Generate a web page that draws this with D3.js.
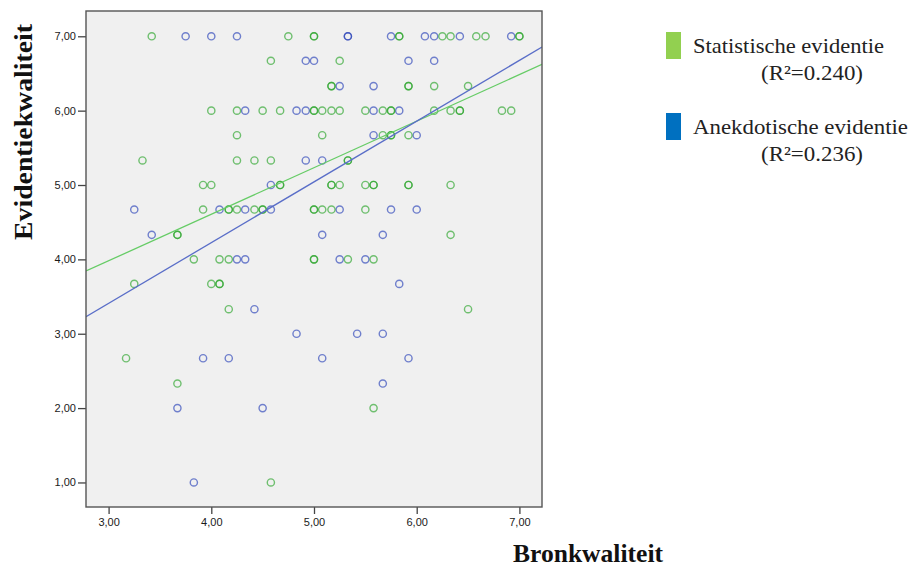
<!DOCTYPE html>
<html>
<head>
<meta charset="utf-8">
<script src="https://cdn.jsdelivr.net/npm/d3@7"></script>
<style>
  html, body { margin: 0; padding: 0; background: #fff; }
  svg { display: block; }
</style>
</head>
<body>
<div id="chart"></div>
<script>
// ----- data -----
const seriesNames = ["Statistische evidentie", "Anekdotische evidentie"];
const rSquaredLabels = ["(R\u00b2=0.240)", "(R\u00b2=0.236)"];
const legendColors = ["#92d050", "#0070c0"];
const pointColors = ["#2aa42a", "#2a42b8"];
const lineColors = ["#66cc66", "#5a6ec8"];

const xTicks = [3, 4, 5, 6, 7];
const yTicks = [1, 2, 3, 4, 5, 6, 7];

// fit lines: [intercept, slope]
const fitStatistisch = [2.103, 0.626];
const fitAnekdotisch = [0.957, 0.817];

// [bronkwaliteit, evidentiekwaliteit], repeated pairs = overlapping cases
const statistischePunten = [
  [3.42, 7], [4.75, 7], [5.00, 7], [5.00, 7], [5.83, 7], [5.83, 7], [6.25, 7], [6.33, 7],
  [6.58, 7], [6.67, 7], [7.00, 7], [7.00, 7],
  [4.58, 6.67], [5.25, 6.67],
  [5.17, 6.33], [5.17, 6.33], [5.92, 6.33], [5.92, 6.33], [6.17, 6.33], [6.50, 6.33],
  [4.00, 6], [4.25, 6], [4.50, 6], [4.67, 6], [5.00, 6], [5.00, 6], [5.08, 6], [5.17, 6],
  [5.25, 6], [5.50, 6], [5.67, 6], [5.75, 6], [5.75, 6], [6.17, 6], [6.33, 6], [6.42, 6],
  [6.42, 6], [6.83, 6], [6.92, 6],
  [4.25, 5.67], [5.08, 5.67], [5.67, 5.67], [5.75, 5.67], [5.75, 5.67], [5.92, 5.67],
  [3.33, 5.33], [4.25, 5.33], [4.42, 5.33], [4.58, 5.33], [5.33, 5.33], [5.33, 5.33],
  [3.92, 5], [4.00, 5], [4.67, 5], [4.67, 5], [5.17, 5], [5.17, 5], [5.25, 5], [5.50, 5],
  [5.58, 5], [5.58, 5], [5.92, 5], [5.92, 5], [6.33, 5],
  [3.92, 4.67], [4.17, 4.67], [4.17, 4.67], [4.25, 4.67], [4.42, 4.67], [4.50, 4.67],
  [4.50, 4.67], [5.00, 4.67], [5.00, 4.67], [5.08, 4.67], [5.17, 4.67], [5.50, 4.67],
  [3.67, 4.33], [3.67, 4.33], [6.33, 4.33],
  [3.83, 4], [4.08, 4], [4.17, 4], [5.00, 4], [5.00, 4], [5.33, 4], [5.58, 4],
  [3.25, 3.67], [4.00, 3.67], [4.08, 3.67], [4.08, 3.67],
  [4.17, 3.33], [6.50, 3.33],
  [3.17, 2.67],
  [3.67, 2.33],
  [5.58, 2],
  [4.58, 1]
];

const anekdotischePunten = [
  [3.75, 7], [4.00, 7], [4.25, 7], [5.33, 7], [5.33, 7], [5.75, 7], [6.08, 7], [6.17, 7],
  [6.42, 7], [6.92, 7],
  [4.92, 6.67], [5.00, 6.67], [5.92, 6.67], [6.17, 6.67],
  [5.25, 6.33], [5.58, 6.33],
  [4.33, 6], [4.83, 6], [4.92, 6], [5.58, 6], [5.83, 6],
  [5.58, 5.67], [6.00, 5.67],
  [4.92, 5.33], [5.08, 5.33],
  [4.58, 5],
  [3.25, 4.67], [4.08, 4.67], [4.33, 4.67], [4.58, 4.67], [5.25, 4.67], [5.75, 4.67],
  [6.00, 4.67],
  [3.42, 4.33], [5.08, 4.33], [5.67, 4.33],
  [4.25, 4], [4.33, 4], [5.25, 4], [5.50, 4],
  [5.83, 3.67],
  [4.42, 3.33],
  [4.83, 3], [5.42, 3], [5.67, 3],
  [3.92, 2.67], [4.17, 2.67], [5.08, 2.67], [5.92, 2.67],
  [5.67, 2.33],
  [3.67, 2], [4.50, 2],
  [3.83, 1]
];

// ----- layout -----
const width = 912;
const height = 568;
const plot = { left: 86, right: 542, top: 11, bottom: 507 };

const svg = d3.select("#chart").append("svg")
  .attr("width", width)
  .attr("height", height);

const x = d3.scaleLinear()
  .domain([2.78, 7.22])
  .range([plot.left, plot.right]);

const y = d3.scaleLinear()
  .domain([0.67, 7.34])
  .range([plot.bottom, plot.top]);

const fmt = d => d3.format(".2f")(d).replace(".", ",");

// ---------- plot background ----------
svg.append("rect")
  .attr("x", plot.left)
  .attr("y", plot.top)
  .attr("width", plot.right - plot.left)
  .attr("height", plot.bottom - plot.top)
  .attr("fill", "#f0f0f0");

svg.append("clipPath")
  .attr("id", "plotClip")
  .append("rect")
  .attr("x", plot.left)
  .attr("y", plot.top)
  .attr("width", plot.right - plot.left)
  .attr("height", plot.bottom - plot.top);

// ---------- axes ----------
const xAxis = svg.append("g")
  .attr("transform", `translate(0,${plot.bottom})`)
  .call(d3.axisBottom(x).tickValues(xTicks).tickFormat(fmt).tickSize(7).tickPadding(4));

const yAxis = svg.append("g")
  .attr("transform", `translate(${plot.left},0)`)
  .call(d3.axisLeft(y).tickValues(yTicks).tickFormat(fmt).tickSize(8).tickPadding(2));

[xAxis, yAxis].forEach(a => {
  a.select(".domain").remove();
  a.selectAll(".tick line").attr("stroke", "#444").attr("stroke-width", 1.3);
  a.selectAll(".tick text")
    .attr("fill", "#1a1a1a")
    .attr("font-family", "'Liberation Sans', Arial, sans-serif")
    .attr("font-size", 11);
});

// ---------- points ----------
const layers = [statistischePunten, anekdotischePunten];
const plotG = svg.append("g").attr("clip-path", "url(#plotClip)");

// blue first, green on top
[1, 0].forEach(i => {
  plotG.append("g")
    .selectAll("circle")
    .data(layers[i])
    .join("circle")
    .attr("cx", d => x(d[0]))
    .attr("cy", d => y(d[1]))
    .attr("r", 3.6)
    .attr("fill", "none")
    .attr("stroke", pointColors[i])
    .attr("stroke-opacity", 0.65)
    .attr("stroke-width", 1.4);
});

// ---------- fit lines ----------
const line = d3.line()
  .x(d => x(d[0]))
  .y(d => y(d[1]));

[fitStatistisch, fitAnekdotisch].forEach((f, i) => {
  const pts = x.domain().map(v => [v, f[0] + f[1] * v]);
  plotG.append("path")
    .attr("d", line(pts))
    .attr("fill", "none")
    .attr("stroke", lineColors[i])
    .attr("stroke-width", 1.3);
});

// ---------- frame ----------
svg.append("rect")
  .attr("x", plot.left)
  .attr("y", plot.top)
  .attr("width", plot.right - plot.left)
  .attr("height", plot.bottom - plot.top)
  .attr("fill", "none")
  .attr("stroke", "#555")
  .attr("stroke-width", 1.4);

// ---------- axis titles ----------
svg.append("text")
  .attr("x", 513)
  .attr("y", 562)
  .attr("font-family", "'Liberation Serif', 'Times New Roman', serif")
  .attr("font-weight", "bold")
  .attr("font-size", 25)
  .attr("textLength", 150)
  .attr("lengthAdjust", "spacingAndGlyphs")
  .attr("fill", "#111")
  .text("Bronkwaliteit");

svg.append("text")
  .attr("transform", "translate(32,132) rotate(-90)")
  .attr("text-anchor", "middle")
  .attr("font-family", "'Liberation Serif', 'Times New Roman', serif")
  .attr("font-weight", "bold")
  .attr("font-size", 25)
  .attr("textLength", 216)
  .attr("lengthAdjust", "spacingAndGlyphs")
  .attr("fill", "#111")
  .text("Evidentiekwaliteit");

// ---------- legend ----------
const legend = svg.append("g")
  .attr("transform", "translate(666,32)");

seriesNames.forEach((name, i) => {
  const row = legend.append("g")
    .attr("transform", `translate(0,${i * 81})`);

  row.append("rect")
    .attr("width", 15)
    .attr("height", 27)
    .attr("fill", legendColors[i]);

  row.append("text")
    .attr("x", 27)
    .attr("y", 21)
    .attr("font-family", "'Liberation Serif', 'Times New Roman', serif")
    .attr("font-size", 22)
    .attr("textLength", i === 0 ? 191 : 215)
    .attr("lengthAdjust", "spacingAndGlyphs")
    .attr("fill", "#222")
    .text(name);

  row.append("text")
    .attr("x", 95)
    .attr("y", 48)
    .attr("font-family", "'Liberation Serif', 'Times New Roman', serif")
    .attr("font-size", 22)
    .attr("textLength", 102)
    .attr("lengthAdjust", "spacingAndGlyphs")
    .attr("fill", "#222")
    .text(rSquaredLabels[i]);
});
</script>
</body>
</html>
